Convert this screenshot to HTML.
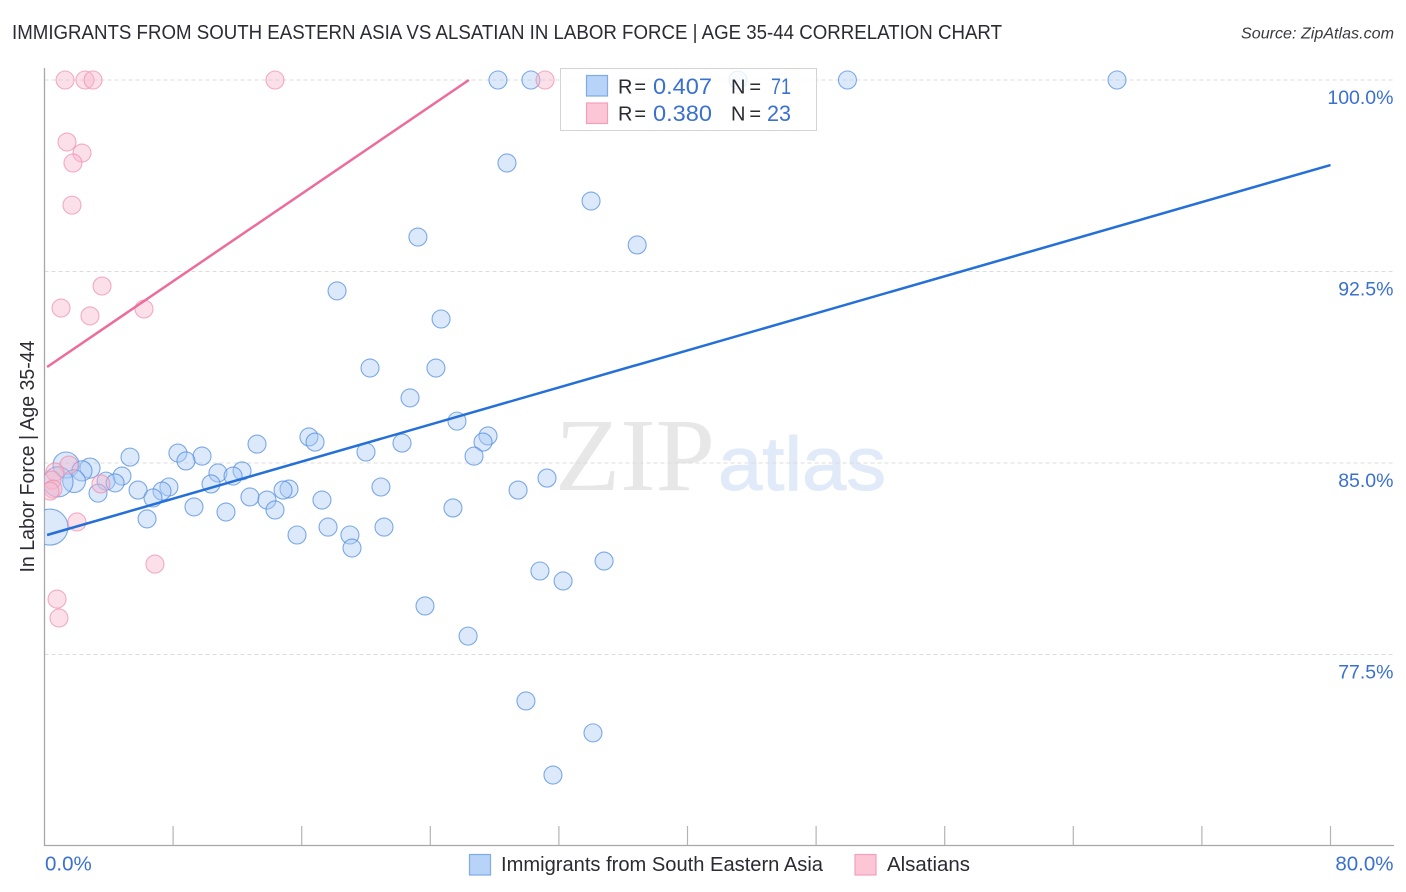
<!DOCTYPE html>
<html lang="en">
<head>
<meta charset="utf-8">
<title>Immigrants from South Eastern Asia vs Alsatian in Labor Force | Age 35-44 Correlation Chart</title>
<style>
html,body{margin:0;padding:0;background:#fff;}
svg{display:block;font-family:"Liberation Sans",sans-serif;}
</style>
</head>
<body>
<svg id="chart" xmlns="http://www.w3.org/2000/svg" width="1406" height="892" viewBox="0 0 1406 892">
  <defs>
    <clipPath id="plot-clip"><rect x="44.5" y="60" width="1350" height="785"/></clipPath>
  </defs>
  <rect x="0" y="0" width="1406" height="892" fill="#fff"/>
  <text x="12" y="39" font-size="20" fill="#2b2b33" textLength="990" lengthAdjust="spacingAndGlyphs">IMMIGRANTS FROM SOUTH EASTERN ASIA VS ALSATIAN IN LABOR FORCE | AGE 35-44 CORRELATION CHART</text>
  <text x="1394" y="38.5" font-size="16" font-style="italic" text-anchor="end" fill="#3a3a42" textLength="153" lengthAdjust="spacingAndGlyphs">Source: ZipAtlas.com</text>

  <g>
    <text x="555" y="490" font-family="'Liberation Serif',serif" font-size="104" fill="#e7e7e7" textLength="160" lengthAdjust="spacingAndGlyphs">ZIP</text>
    <text x="718" y="490" font-size="76" fill="#e0eaf9" stroke="#e0eaf9" stroke-width="1" textLength="168" lengthAdjust="spacingAndGlyphs">atlas</text>
  </g>

  <g id="grid"></g>
  <g id="axes"></g>
  <g id="points" clip-path="url(#plot-clip)"></g>
  <g id="trends"></g>

  <text transform="translate(34,456.5) rotate(-90)" font-size="20" text-anchor="middle" fill="#2b2b33" textLength="232" lengthAdjust="spacingAndGlyphs">In Labor Force | Age 35-44</text>

  <g>
    <rect x="560.5" y="68.5" width="256" height="62" fill="#fff" fill-opacity="0.82" stroke="#d4d4d4" stroke-width="1"/>
    <rect x="586.5" y="75.5" width="21" height="20.5" fill="#b7d3f8" stroke="#7fabe6" stroke-width="1.2"/>
    <rect x="586.5" y="103" width="21" height="20.5" fill="#fcc6d7" stroke="#f2a0ba" stroke-width="1.2"/>
    <g font-size="20" fill="#2b2b33">
      <text x="618" y="93.5" textLength="28" lengthAdjust="spacing">R =</text>
      <text x="731" y="93.5" textLength="30" lengthAdjust="spacing">N =</text>
      <text x="618" y="120.5" textLength="28" lengthAdjust="spacing">R =</text>
      <text x="731" y="120.5" textLength="30" lengthAdjust="spacing">N =</text>
    </g>
    <g font-size="22" fill="#3a70cf">
      <text x="653" y="94" textLength="59" lengthAdjust="spacingAndGlyphs">0.407</text>
      <text x="771" y="94" textLength="20" lengthAdjust="spacingAndGlyphs">71</text>
      <text x="653" y="121" textLength="59" lengthAdjust="spacingAndGlyphs">0.380</text>
      <text x="767" y="121" textLength="24" lengthAdjust="spacingAndGlyphs">23</text>
    </g>
  </g>

  <g>
    <rect x="469.5" y="854.5" width="21" height="20.5" fill="#b7d3f8" stroke="#7fabe6" stroke-width="1.2"/>
    <text x="501" y="871" font-size="20" fill="#2b2b33" textLength="322" lengthAdjust="spacingAndGlyphs">Immigrants from South Eastern Asia</text>
    <rect x="855" y="854.5" width="21" height="20.5" fill="#fcc6d7" stroke="#f2a0ba" stroke-width="1.2"/>
    <text x="887" y="871" font-size="20" fill="#2b2b33" textLength="83" lengthAdjust="spacingAndGlyphs">Alsatians</text>
  </g>
</svg>
<script>
const yTickValues = [100, 92.5, 85, 77.5];
const yTickLabels = ['100.0%', '92.5%', '85.0%', '77.5%'];
const xTickValues = [0, 8, 16, 24, 32, 40, 48, 56, 64, 72, 80];
const xEdgeLabels = ['0.0%', '80.0%'];

const blueX = [28.21,30.26,43.14,49.95,66.72,28.77,34.0,36.87,23.23,18.2,24.67,20.25,24.35,22.74,25.66,27.59,27.28,22.24,16.45,16.83,13.22,20.0,26.72,5.32,8.3,9.8,8.8,1.34,2.83,2.33,10.79,12.29,11.73,4.82,31.26,3.83,4.39,1.84,10.36,7.74,0.84,20.93,29.46,5.82,7.31,3.33,15.21,14.84,6.75,12.78,13.84,17.26,9.3,14.34,11.29,25.41,6.38,17.64,21.12,0.34,15.71,19.0,19.13,34.81,30.82,32.26,23.67,26.35,29.95,34.12,31.63];
const blueY = [100,100,100,100,100,96.75,95.26,93.54,93.85,91.74,90.64,88.72,88.72,87.55,86.64,86.06,85.82,85.78,86.02,85.82,85.74,85.43,85.27,85.23,85.39,85.27,85.08,84.92,84.8,84.69,84.61,84.69,84.49,84.49,84.41,84.29,84.22,84.29,84.18,84.06,84.26,84.06,83.94,83.94,83.9,83.82,83.98,83.94,83.63,83.67,83.55,83.55,83.28,83.16,83.08,83.24,82.81,82.49,82.49,82.49,82.18,82.18,81.67,81.16,80.77,80.38,79.4,78.22,75.68,74.43,72.78];
const blueWeight = [1,1,1,1,1,1,1,1,1,1,1,1,1,1,1,1,1,1,1,1,1,1,1,1,1,1,1,2.1,1.25,1.25,1,1,1,1,1,1,1,1.6,1,1,2.8,1,1,1,1,1,1,1,1,1,1,1,1,1,1,1,1,1,1,4,1,1,1,1,1,1,1,1,1,1,1];

const pinkX = [1.28,2.52,3.02,14.34,31.14,1.4,2.33,1.77,1.71,3.58,1.03,2.83,6.19,1.52,0.65,0.47,0.53,0.34,3.51,2.02,6.87,0.78,0.9];
const pinkY = [100,100,100,100,100,97.57,97.14,96.75,95.1,91.93,91.07,90.76,91.03,84.92,84.65,84.33,83.98,83.9,84.18,82.69,81.04,79.67,78.93];

const blueTrendX = [0.16, 80];
const blueTrendY = [82.18, 96.67];
const pinkTrendX = [0.16, 26.4];
const pinkTrendY = [88.76, 100];

const SVGNS = 'http://www.w3.org/2000/svg';
function xScale(v) { return 44.5 + v * (1286 / 80); }
function yScale(v) { return 80 + (100 - v) * (191.5 / 7.5); }
function rScale(w) { return 9 * Math.sqrt(w); }
function make(tag, attrs, parent) {
  const el = document.createElementNS(SVGNS, tag);
  for (const k in attrs) el.setAttribute(k, attrs[k]);
  parent.appendChild(el);
  return el;
}

const grid = document.getElementById('grid');
const axes = document.getElementById('axes');
const points = document.getElementById('points');
const trends = document.getElementById('trends');

yTickValues.forEach(function (v, i) {
  const line = make('line', {x1: 44.5, x2: 1394, y1: yScale(v), y2: yScale(v), stroke: '#dcdcdc', 'stroke-width': 1, 'stroke-dasharray': '4 3'}, grid);
  
  
  const label = make('text', {x: 1393.5, y: yScale(v) + 24, 'font-size': 19.5, 'text-anchor': 'end', fill: '#3a70cf'}, axes);
  label.textContent = yTickLabels[i];
  
  
});

const yAxis = make('line', {x1: 44.5, x2: 44.5, y1: 68, y2: 846, stroke: '#a8a8a8', 'stroke-width': 1.3}, axes);


const xAxis = make('line', {x1: 44, x2: 1394, y1: 845.5, y2: 845.5, stroke: '#a8a8a8', 'stroke-width': 1.3}, axes);



xTickValues.slice(1).forEach(function (v) {
  const tick = make('line', {x1: xScale(v), x2: xScale(v), y1: 826, y2: 845, stroke: '#b4b4b4', 'stroke-width': 1.2}, axes);
  
  
});

const xLabelLeft = make('text', {x: 45, y: 870.5, 'font-size': 20.5, fill: '#3a70cf'}, axes);
xLabelLeft.textContent = xEdgeLabels[0];


const xLabelRight = make('text', {x: 1393.5, y: 870.5, 'font-size': 20.5, 'text-anchor': 'end', fill: '#3a70cf'}, axes);
xLabelRight.textContent = xEdgeLabels[1];



blueX.forEach(function (v, i) {
  const c = make('circle', {cx: xScale(v), cy: yScale(blueY[i]), r: rScale(blueWeight[i]), fill: '#a9cbf6', 'fill-opacity': 0.42, stroke: '#4f8ade', 'stroke-opacity': 0.72, 'stroke-width': 1.1}, points);
  
  
});

pinkX.forEach(function (v, i) {
  const c = make('circle', {cx: xScale(v), cy: yScale(pinkY[i]), r: 9, fill: '#f9b4ca', 'fill-opacity': 0.42, stroke: '#ee8fae', 'stroke-opacity': 0.72, 'stroke-width': 1.1}, points);
  
  
});

const blueTrend = make('line', {x1: xScale(blueTrendX[0]), y1: yScale(blueTrendY[0]), x2: xScale(blueTrendX[1]), y2: yScale(blueTrendY[1]), stroke: '#2470d8', 'stroke-width': 2.5}, trends);


const pinkTrend = make('line', {x1: xScale(pinkTrendX[0]), y1: yScale(pinkTrendY[0]), x2: xScale(pinkTrendX[1]), y2: yScale(pinkTrendY[1]), stroke: '#ec6c9b', 'stroke-width': 2.5}, trends);


</script>
</body>
</html>
